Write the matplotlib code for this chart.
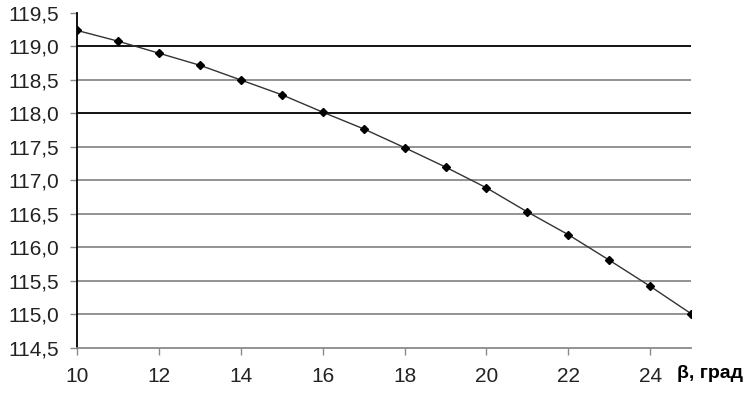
import matplotlib
matplotlib.use("Agg")
import matplotlib.pyplot as plt
from matplotlib.ticker import FuncFormatter

plt.rcParams['font.family'] = ['Liberation Sans', 'DejaVu Sans']

# beta, degrees
beta = [10, 11, 12, 13, 14, 15, 16, 17, 18, 19, 20, 21, 22, 23, 24, 25]
values = [119.24, 119.08, 118.90, 118.72, 118.50, 118.28, 118.02, 117.77,
          117.49, 117.20, 116.89, 116.53, 116.19, 115.81, 115.42, 115.01]
y_ticks = [114.5, 115.0, 115.5, 116.0, 116.5, 117.0, 117.5, 118.0, 118.5, 119.0, 119.5]
x_ticks = [10, 12, 14, 16, 18, 20, 22, 24]
dark_lines = [118.0, 119.0]

fig = plt.figure(figsize=(7.48, 3.94), dpi=100)
ax = fig.add_axes([0.103, 0.117, 0.821, 0.850])

# gridlines between the bottom axis and the top end
for y in y_ticks[1:-1]:
    ax.axhline(y, color='black' if y in dark_lines else '#8a8a8a', lw=1.3, zorder=1)

ax.plot(beta, values, color='#333333', lw=1.0, marker='D', ms=4.5,
        mfc='black', mec='black', zorder=3)

ax.set_xlim(10, 25)
ax.set_ylim(114.5, 119.5)
ax.set_xticks(x_ticks)
ax.set_yticks(y_ticks)
ax.yaxis.set_major_formatter(FuncFormatter(lambda v, p: f"{v:.1f}".replace('.', ',')))

for s in ['top', 'right']:
    ax.spines[s].set_visible(False)
ax.spines['left'].set_color('black')
ax.spines['left'].set_linewidth(1.3)
ax.spines['bottom'].set_color('#8a8a8a')
ax.spines['bottom'].set_linewidth(1.3)

ax.tick_params(axis='y', length=5, width=1.0, color='#8a8a8a', labelsize=15,
               labelcolor='#222222', pad=8)
ax.tick_params(axis='x', length=5, width=1.0, color='#8a8a8a', labelsize=15,
               labelcolor='#222222', pad=9)

fig.text(0.993, 0.052, 'β, град', ha='right', va='center', fontsize=14, fontweight='bold')

fig.savefig('out.png', dpi=100)
